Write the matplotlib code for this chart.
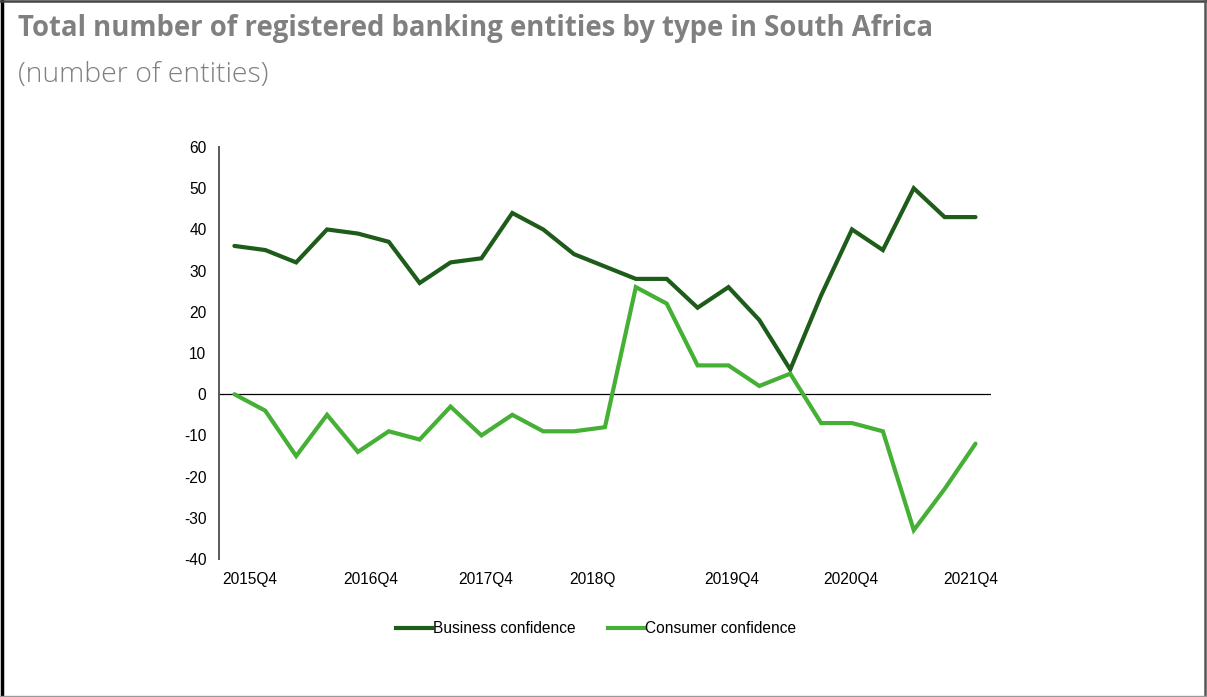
import matplotlib.pyplot as plt
from matplotlib.lines import Line2D

# quarterly series, 2015Q4 .. 2021Q4
business = [36, 35, 32, 40, 39, 37, 27, 32, 33, 44, 40, 34, 31,
            28, 28, 21, 26, 18, 6, 24, 40, 35, 50, 43, 43]
consumer = [0, -4, -15, -5, -14, -9, -11, -3, -10, -5, -9, -9, -8,
            26, 22, 7, 7, 2, 5, -7, -7, -9, -33, -23, -12]

tick_labels = ["2015Q4", "2016Q4", "2017Q4", "2018Q", "2019Q4", "2020Q4", "2021Q4"]
tick_pos = [0.5, 4.4, 8.15, 11.6, 16.1, 19.95, 23.85]

dark_green = "#1e5c1a"
light_green = "#45b035"

plt.rcParams["font.family"] = ["Liberation Sans", "DejaVu Sans"]
plt.rcParams["axes.unicode_minus"] = False

fig = plt.figure(figsize=(12.07, 6.97), dpi=100)
ax = fig.add_axes([0.1814, 0.198, 0.6396, 0.591])

x = list(range(len(business)))
ax.plot(x, business, color=dark_green, lw=3.0, solid_joinstyle="miter",
        solid_capstyle="round", label="Business confidence", zorder=3)
ax.plot(x, consumer, color=light_green, lw=3.0, solid_joinstyle="miter",
        solid_capstyle="round", label="Consumer confidence", zorder=3)
ax.axhline(0, color="black", lw=0.9, zorder=2)

ax.set_xlim(-0.5, 24.5)
ax.set_ylim(-40, 60)
ax.set_yticks(range(-40, 61, 10))
ax.set_xticks(tick_pos)
ax.set_xticklabels(tick_labels)
ax.tick_params(axis="both", length=0, labelsize=11.2, colors="black")
ax.tick_params(axis="y", pad=9)
ax.tick_params(axis="x", pad=9.5)

for side in ["top", "right", "bottom"]:
    ax.spines[side].set_visible(False)
ax.spines["left"].set_color("#595959")
ax.spines["left"].set_linewidth(1.4)

handles = [Line2D([], [], color=dark_green, lw=3.0),
           Line2D([], [], color=light_green, lw=3.0)]
fig.legend(handles, ["Business confidence", "Consumer confidence"],
           loc="center", bbox_to_anchor=(0.494, 0.098), ncol=2, frameon=False,
           fontsize=11.2, handlelength=2.3, handletextpad=0.05, columnspacing=2.1)

fig.text(0.015, 0.959, "Total number of registered banking entities by type in South Africa",
         fontsize=19.8, fontweight="bold", color="#808080", family="Open Sans",
         va="center", ha="left")
fig.text(0.015, 0.893, "(number of entities)", fontsize=20.5, color="#808080",
         family="Open Sans", fontweight="light", va="center", ha="left")

# outer frame
fig.add_artist(Line2D([0.002, 0.002], [0, 1], color="black", lw=2.5, transform=fig.transFigure))
fig.add_artist(Line2D([0, 1], [0.999, 0.999], color="#444444", lw=1.8, transform=fig.transFigure))
fig.add_artist(Line2D([0.9985, 0.9985], [0, 1], color="#555555", lw=1.8, transform=fig.transFigure))
fig.add_artist(Line2D([0, 1], [0.0015, 0.0015], color="#999999", lw=1.0, transform=fig.transFigure))

fig.savefig("out.png", dpi=100)
